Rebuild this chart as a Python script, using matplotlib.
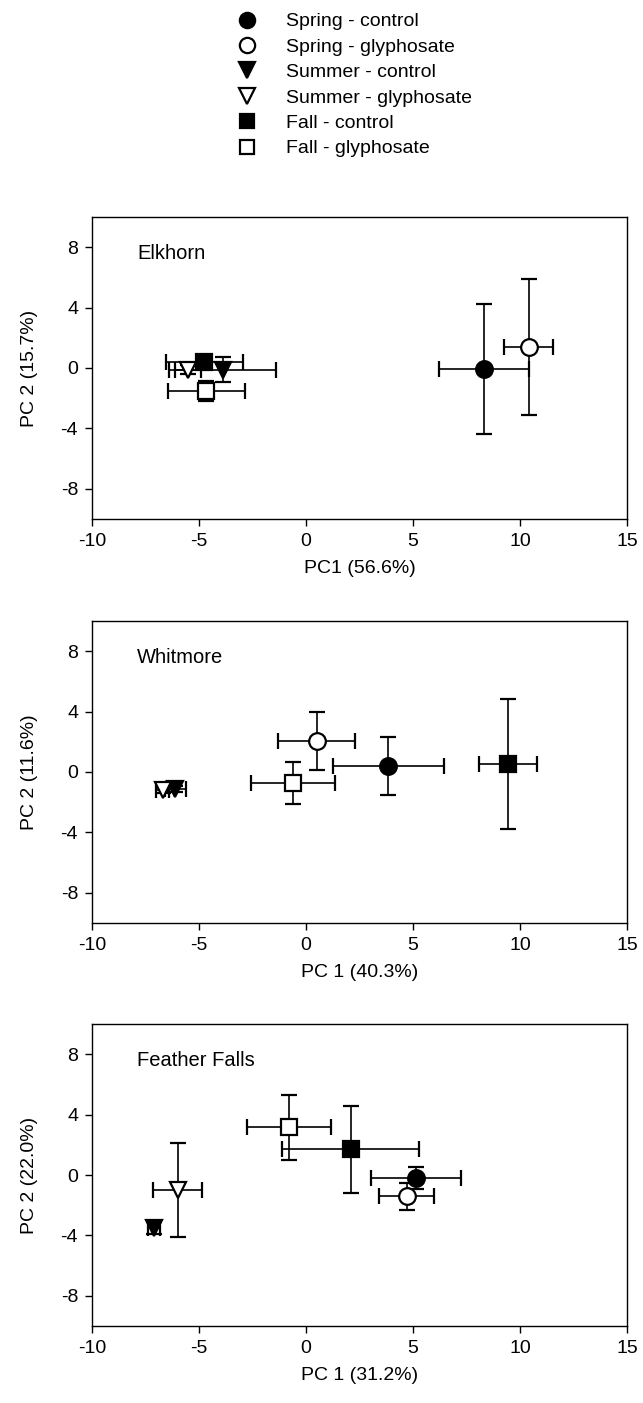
import matplotlib
matplotlib.use("Agg")
import matplotlib.pyplot as plt
from matplotlib.lines import Line2D

plt.rcParams['font.family'] = ['Liberation Sans', 'DejaVu Sans']
plt.rcParams['axes.unicode_minus'] = False

groups = ["Spring - control", "Spring - glyphosate", "Summer - control",
          "Summer - glyphosate", "Fall - control", "Fall - glyphosate"]
markers = ["o", "o", "v", "v", "s", "s"]
filled = [True, False, True, False, True, False]
marker_sizes = [12, 12, 12, 12, 11, 11]

sites = ["Elkhorn", "Whitmore", "Feather Falls"]
xlabels = ["PC1 (56.6%)", "PC 1 (40.3%)", "PC 1 (31.2%)"]
ylabels = ["PC 2 (15.7%)", "PC 2 (11.6%)", "PC 2 (22.0%)"]

# order: spring ctrl, spring gly, summer ctrl, summer gly, fall ctrl, fall gly
elk_x = [8.3, 10.4, -3.9, -5.5, -4.75, -4.65]
elk_y = [-0.05, 1.4, -0.1, -0.1, 0.4, -1.5]
elk_xerr = [2.1, 1.15, 2.5, 0.6, 1.8, 1.8]
elk_yerr = [4.3, 4.5, 0.83, 0.3, 0.3, 0.67]

whit_x = [3.85, 0.5, -6.1, -6.7, 9.45, -0.6]
whit_y = [0.4, 2.05, -1.15, -1.2, 0.55, -0.75]
whit_xerr = [2.6, 1.8, 0.5, 0.3, 1.35, 1.95]
whit_yerr = [1.9, 1.9, 0.2, 0.2, 4.3, 1.4]

ff_x = [5.15, 4.7, -7.1, -6.0, 2.1, -0.8]
ff_y = [-0.2, -1.4, -3.5, -1.0, 1.7, 3.15]
ff_xerr = [2.1, 1.3, 0.3, 1.15, 3.2, 1.95]
ff_yerr = [0.75, 0.9, 0.4, 3.1, 2.9, 2.15]

data = [(elk_x, elk_y, elk_xerr, elk_yerr),
        (whit_x, whit_y, whit_xerr, whit_yerr),
        (ff_x, ff_y, ff_xerr, ff_yerr)]

W, H = 643, 1403
fig = plt.figure(figsize=(W / 100, H / 100), dpi=100)

left = 92 / W
width = 535 / W
height = 302 / H
bottoms = [1 - 519 / H, 1 - 923 / H, 1 - 1326 / H]

for i in range(3):
    ax = fig.add_axes([left, bottoms[i], width, height])
    xs, ys, xe, ye = data[i]
    for j in range(6):
        ax.errorbar(xs[j], ys[j], xerr=xe[j], yerr=ye[j],
                    fmt=markers[j], ms=marker_sizes[j],
                    mfc='black' if filled[j] else 'white', mec='black', mew=1.6,
                    ecolor='black', elinewidth=1.2, capsize=6, capthick=1.4,
                    zorder=3 + j)
    ax.set_xlim(-10, 15)
    ax.set_ylim(-10, 10)
    ax.set_xticks([-10, -5, 0, 5, 10, 15])
    ax.set_yticks([-8, -4, 0, 4, 8])
    ax.tick_params(direction='out', length=5, width=1.0, labelsize=14, pad=5)
    for s in ax.spines.values():
        s.set_linewidth(1.0)
    ax.set_xlabel(xlabels[i], fontsize=14, labelpad=7)
    ax.set_ylabel(ylabels[i], fontsize=14, labelpad=16)
    ax.text(0.084, 0.88, sites[i], transform=ax.transAxes, fontsize=14.5,
            va='center', ha='left')

handles = [Line2D([], [], linestyle='none', marker=markers[j],
                  ms=marker_sizes[j] - 1,
                  mfc='black' if filled[j] else 'white', mec='black', mew=1.6)
           for j in range(6)]
fig.legend(handles, groups, loc='upper left',
           bbox_to_anchor=(226 / W, 1 - 5 / H), frameon=False, fontsize=14,
           labelspacing=0.40, handletextpad=1.3, handlelength=1.4,
           borderaxespad=0)

fig.savefig("out.png", dpi=100)
